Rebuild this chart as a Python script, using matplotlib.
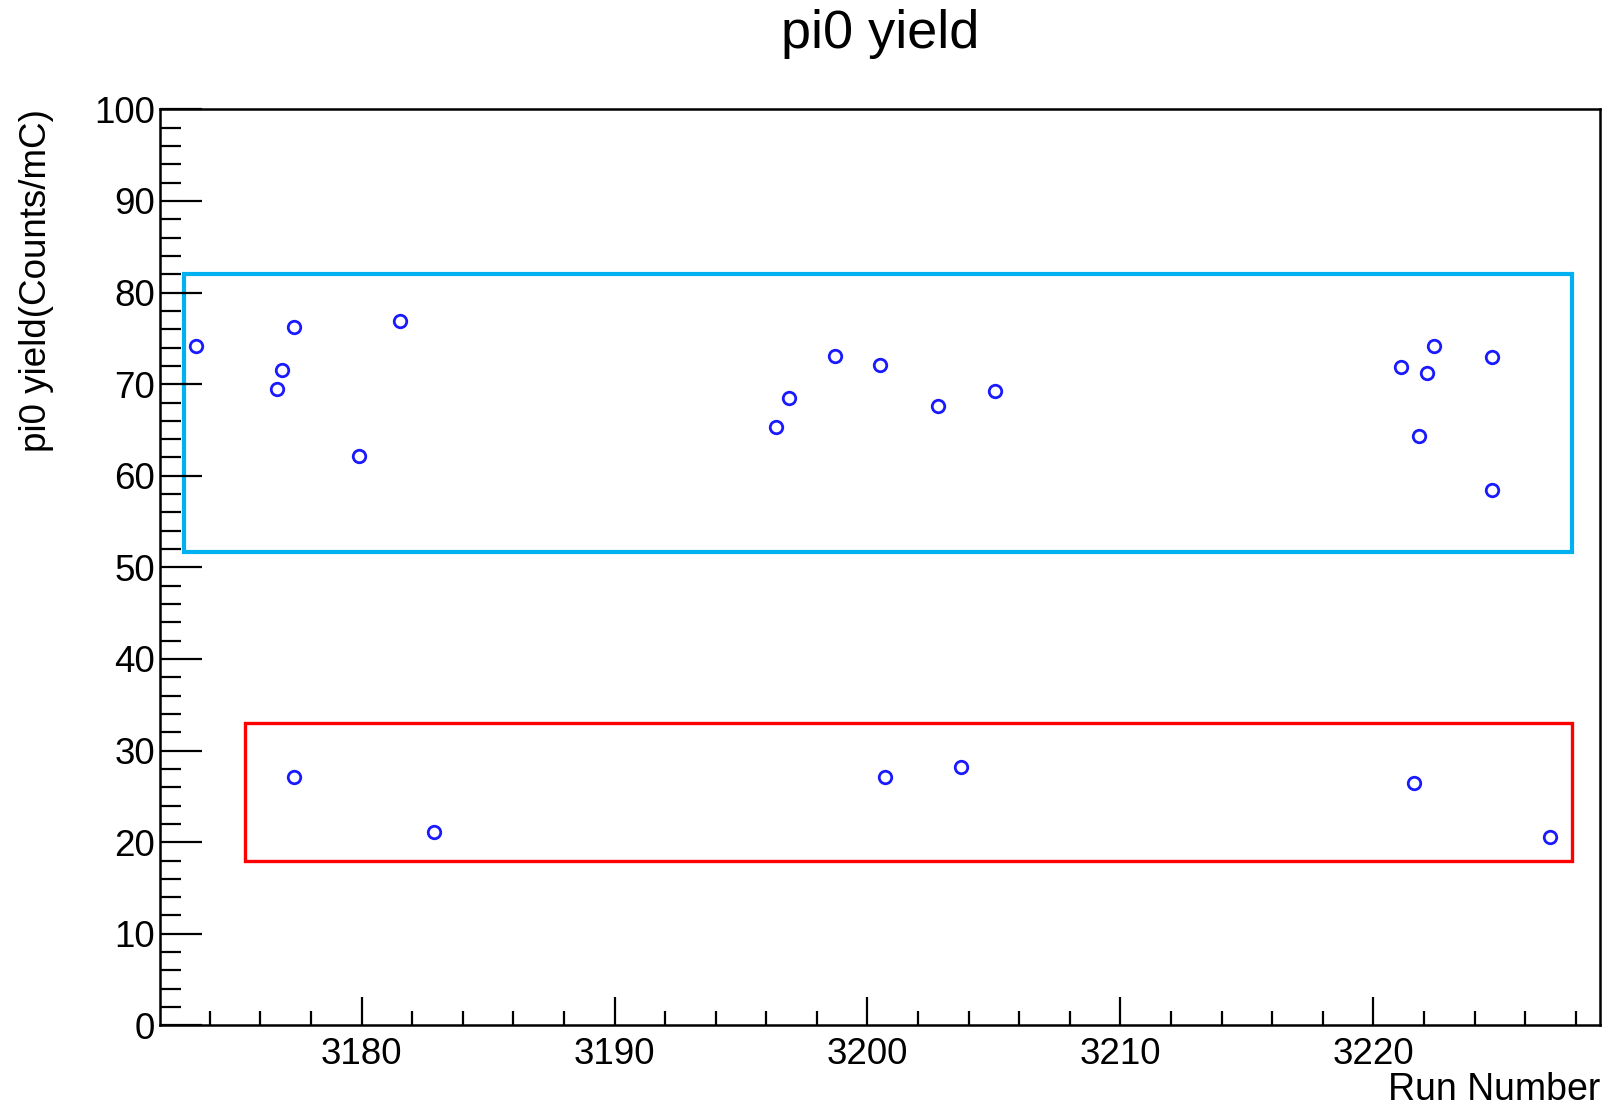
import matplotlib
matplotlib.use("Agg")
import matplotlib.pyplot as plt
from matplotlib.patches import Rectangle
from matplotlib.ticker import MultipleLocator

plt.rcParams['font.family'] = ['Liberation Sans', 'DejaVu Sans']

# Data (run number, pi0 yield in Counts/mC)
run_numbers = [3173.45, 3176.65, 3176.85, 3177.33, 3179.88, 3181.5,
               3196.4, 3196.9, 3198.7, 3200.5, 3202.8, 3205.05,
               3221.09, 3221.8, 3222.1, 3222.4, 3224.7, 3224.7,
               3177.33, 3182.87, 3200.7, 3203.7, 3221.6, 3227.0]
pi0_yield = [74.2, 69.5, 71.5, 76.2, 62.2, 76.9,
             65.3, 68.5, 73.1, 72.1, 67.6, 69.3,
             71.9, 64.3, 71.2, 74.2, 73.0, 58.4,
             27.1, 21.1, 27.1, 28.2, 26.5, 20.6]

title = "pi0 yield"
x_label = "Run Number"
y_label = "pi0 yield(Counts/mC)"

fig = plt.figure(figsize=(16.03, 11.07), dpi=100)
ax = fig.add_axes([0.1001, 0.0737, 0.8979, 0.8275])

ax.plot(run_numbers, pi0_yield, linestyle='none', marker='o', markersize=9,
        markerfacecolor='none', markeredgecolor='#1a1aff', markeredgewidth=2.0)

# highlight boxes
ax.add_patch(Rectangle((3172.97, 51.7), 3227.84 - 3172.97, 82.0 - 51.7,
                       fill=False, edgecolor='#00b0f0', linewidth=3.0, zorder=1))
ax.add_patch(Rectangle((3175.4, 18.0), 3227.84 - 3175.4, 33.0 - 18.0,
                       fill=False, edgecolor='#ff0000', linewidth=2.4, zorder=1))

ax.set_xlim(3172.05, 3228.95)
ax.set_ylim(0, 100)
ax.xaxis.set_major_locator(MultipleLocator(10))
ax.xaxis.set_minor_locator(MultipleLocator(2))
ax.yaxis.set_major_locator(MultipleLocator(10))
ax.yaxis.set_minor_locator(MultipleLocator(2))

for s in ax.spines.values():
    s.set_linewidth(1.8)
    s.set_color('black')

ax.tick_params(axis='y', which='major', direction='in', length=30, width=1.6,
               labelsize=26.5, pad=4, right=False)
ax.tick_params(axis='y', which='minor', direction='in', length=15, width=1.6,
               right=False)
ax.tick_params(axis='x', which='major', direction='in', length=20, width=1.6,
               labelsize=26.5, pad=8, top=False)
ax.tick_params(axis='x', which='minor', direction='in', length=10, width=1.6,
               top=False)

ax.set_title(title, fontsize=39, pad=44)
ax.set_xlabel(x_label, fontsize=27, loc='right', labelpad=0)
ax.set_ylabel(y_label, fontsize=26.5, loc='top', labelpad=29)

fig.savefig("out.png", dpi=100)
